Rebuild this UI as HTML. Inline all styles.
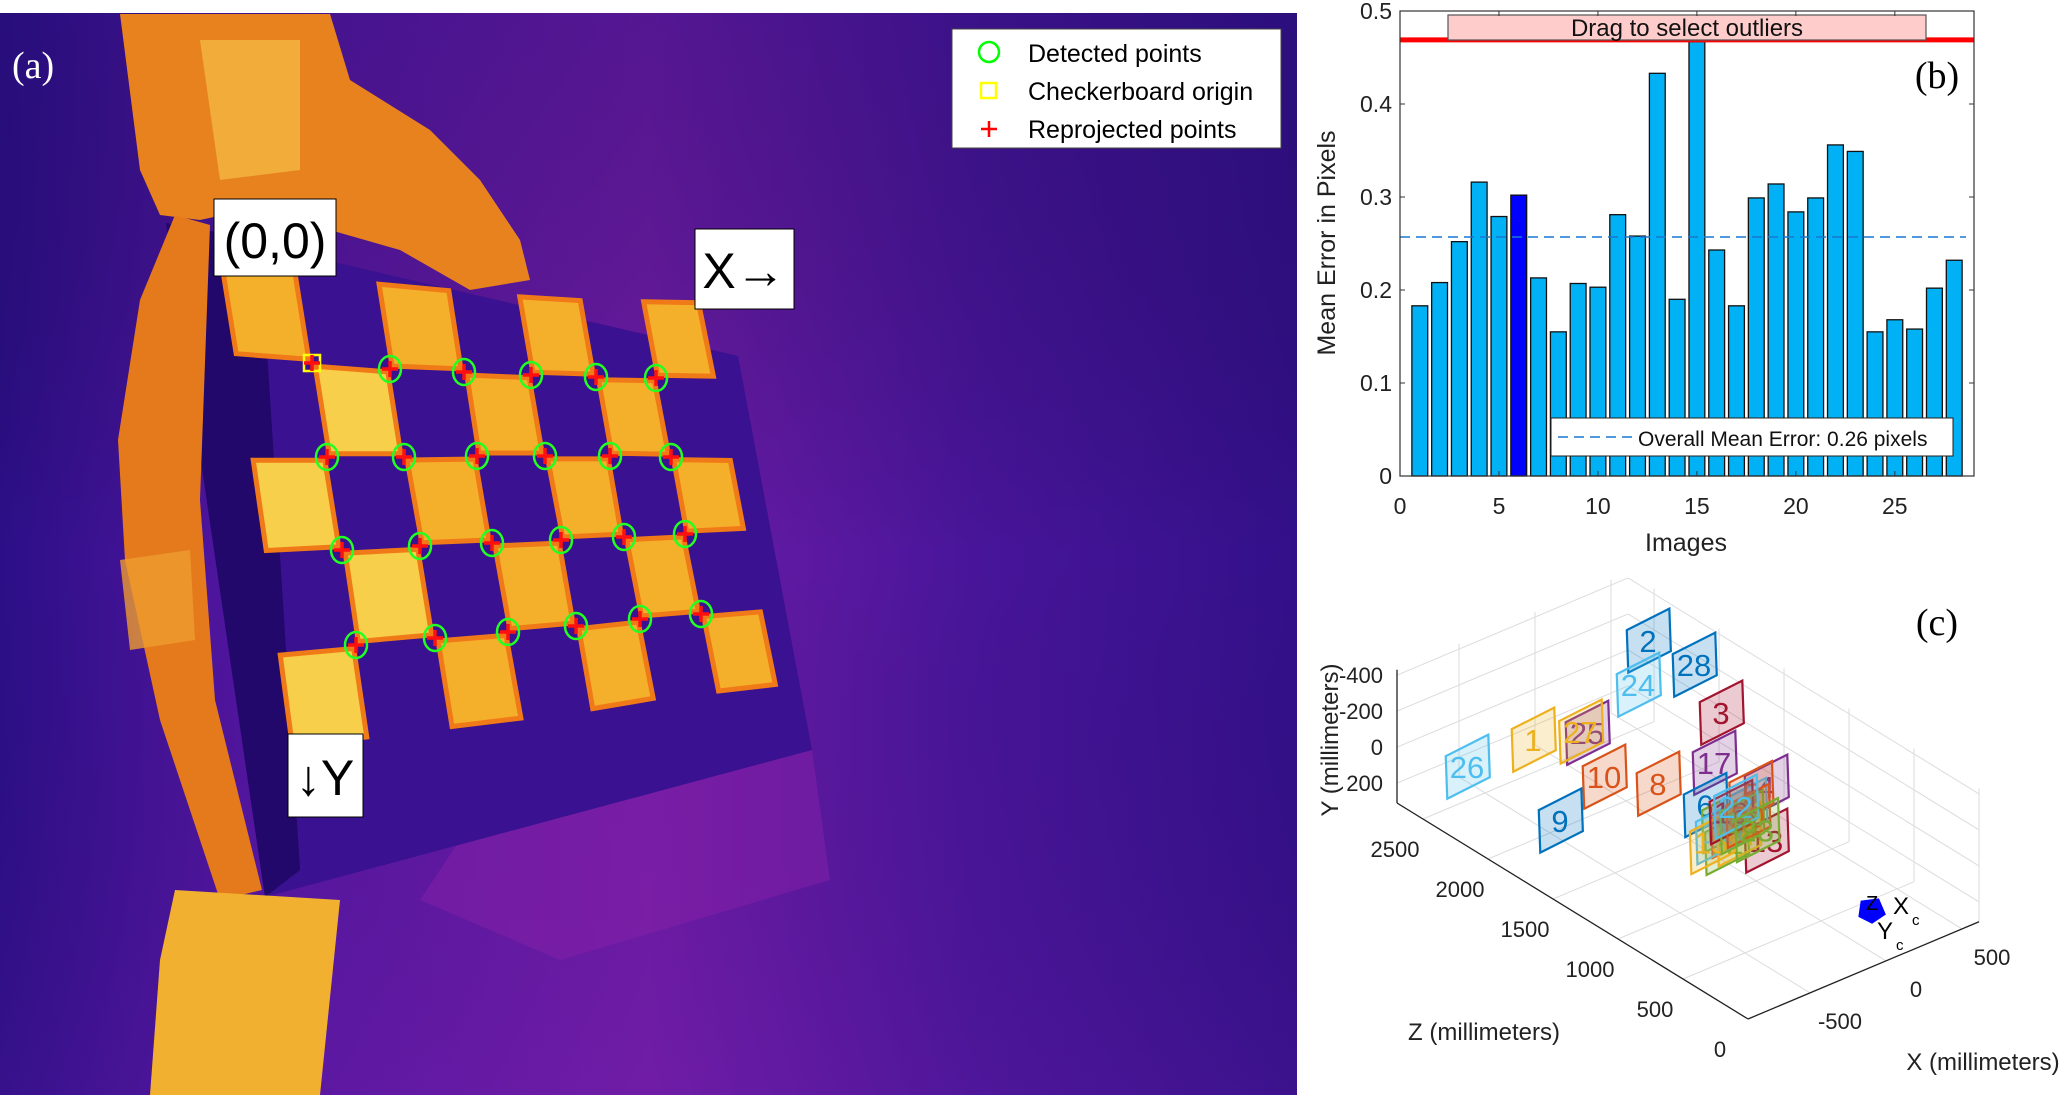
<!DOCTYPE html>
<html><head><meta charset="utf-8"><style>
html,body{margin:0;padding:0;background:#fff;}
body{width:2067px;height:1095px;position:relative;overflow:hidden;font-family:"Liberation Sans",sans-serif;}
svg{position:absolute;left:0;top:0;}
</style></head><body>
<svg id="root" width="2067" height="1095" viewBox="0 0 2067 1095" xmlns="http://www.w3.org/2000/svg">
<defs>
<linearGradient id="bg" x1="0" y1="0" x2="1" y2="0">
<stop offset="0" stop-color="#2c0f88"/><stop offset="0.2" stop-color="#5416a2"/><stop offset="0.5" stop-color="#6e1ca8"/><stop offset="0.75" stop-color="#48159a"/><stop offset="1" stop-color="#33108a"/>
</linearGradient>
<linearGradient id="bgv" x1="0" y1="0" x2="0" y2="1">
<stop offset="0" stop-color="#1c0a60" stop-opacity="0.3"/><stop offset="0.5" stop-color="#000" stop-opacity="0"/><stop offset="1" stop-color="#8020a0" stop-opacity="0.12"/>
</linearGradient>
<clipPath id="photoClip"><rect x="0" y="13" width="1297" height="1082"/></clipPath>
</defs>
<g id="photo" clip-path="url(#photoClip)">
<rect x="0" y="13" width="1297" height="1082" fill="url(#bg)"/>
<rect x="0" y="13" width="1297" height="1082" fill="url(#bgv)"/>
<polygon points="500,780 812,750 830,880 560,960 420,900" fill="#8a22a8" opacity="0.45"/>
<polygon points="166,223 738,356 812,750 265,897" fill="#3a1190"/>
<polygon points="166,223 260,240 300,870 265,897" fill="#22086a"/>
<polygon points="120,14 330,14 350,80 430,130 480,180 520,240 530,280 470,290 400,250 330,230 270,205 200,220 160,215 140,170" fill="#e8821e"/>
<polygon points="118,440 140,300 175,215 210,225 200,500 215,700 262,890 220,900 160,720 125,560" fill="#e57a1c"/>
<polygon points="120,560 190,550 195,640 130,650" fill="#ee9c30" opacity="0.8"/>
<polygon points="175,890 340,900 320,1095 150,1095 160,960" fill="#f2b030"/>
<polygon points="200,40 300,40 300,170 220,180" fill="#f8d050" opacity="0.55"/>
<g id="board"></g>
<g id="marks"></g>
<rect x="214" y="199" width="122" height="77" fill="#fff" stroke="#000" stroke-width="1"/>
<text x="275" y="258" font-size="50" text-anchor="middle" fill="#000">(0,0)</text>
<rect x="695" y="229" width="99" height="80" fill="#fff" stroke="#000" stroke-width="1"/>
<text x="744" y="288" font-size="50" text-anchor="middle" fill="#000">X→</text>
<rect x="288" y="734" width="75" height="83" fill="#fff" stroke="#000" stroke-width="1"/>
<text x="325" y="795" font-size="50" text-anchor="middle" fill="#000">↓Y</text>
<text x="12" y="78" font-size="38" fill="#fff" font-family="Liberation Serif, serif">(a)</text>
<g>
<rect x="952" y="29" width="329" height="119" fill="#fff" stroke="#444" stroke-width="1"/>
<ellipse cx="989" cy="52" rx="10" ry="10" fill="none" stroke="#00ff00" stroke-width="2.5"/>
<text x="1028" y="62" font-size="25" fill="#000">Detected points</text>
<rect x="981" y="83" width="15" height="15" fill="none" stroke="#ffff00" stroke-width="2.5"/>
<text x="1028" y="100" font-size="25" fill="#000">Checkerboard origin</text>
<path d="M981 129 H997 M989 121 V137" stroke="#ff0000" stroke-width="2.5"/>
<text x="1028" y="138" font-size="25" fill="#000">Reprojected points</text>
</g>
</g>

<g id="barchart">
<rect x="1400" y="11" width="574" height="465" fill="#fff"/>
<g id="bars"></g>
<g id="bticks"></g>
<rect x="1400" y="11" width="574" height="465" fill="none" stroke="#333" stroke-width="1.2"/>
<text transform="translate(1335,243) rotate(-90)" font-size="25" text-anchor="middle" fill="#222">Mean Error in Pixels</text>
<text x="1686" y="551" font-size="25" text-anchor="middle" fill="#222">Images</text>
<text x="1937" y="88" font-size="38" text-anchor="middle" fill="#000" font-family="Liberation Serif, serif">(b)</text>
</g>

<g id="chart3d">
<g id="grid3d"></g>
<g id="planes"></g>
<g>
<path d="M1862 902 L1878 900 L1884 914 L1872 922 L1860 916 Z" fill="#0000ff" stroke="#0000ff" stroke-width="3"/>
<text x="1866" y="910" font-size="20" fill="#000">Z</text>
<text x="1893" y="914" font-size="24" fill="#000">X</text><text x="1912" y="925" font-size="15" fill="#000">c</text>
<text x="1877" y="939" font-size="24" fill="#000">Y</text><text x="1896" y="950" font-size="15" fill="#000">c</text>
</g>
<text transform="translate(1338,740) rotate(-90)" font-size="24" text-anchor="middle" fill="#222">Y (millimeters)</text>
<text x="1484" y="1040" font-size="24" text-anchor="middle" fill="#222">Z (millimeters)</text>
<text x="1983" y="1070" font-size="24" text-anchor="middle" fill="#222">X (millimeters)</text>
<text x="1937" y="635" font-size="38" text-anchor="middle" fill="#000" font-family="Liberation Serif, serif">(c)</text>
</g>
</svg>
<script>
const NS='http://www.w3.org/2000/svg';
function mk(parent,tag,attrs){const e=document.createElementNS(NS,tag);for(const k in attrs)e.setAttribute(k,attrs[k]);parent.appendChild(e);return e;}

/* ---- checkerboard corners (photo) ---- */
const cornerX=[[312,390,464,531,596,656],[327,404,477,545,610,671],[342,420,492,561,624,685],[356,435,508,576,640,701]];
const cornerY=[[363,369,372,375,377,378],[457,457,456,456,456,457],[550,546,543,540,537,534],[645,638,632,626,619,614]];
function ext(arr){
  const rows=arr.map(r=>[2*r[0]-r[1],...r,2*r[r.length-1]-r[r.length-2]]);
  const f=rows[0],s=rows[1],l=rows[rows.length-1],p=rows[rows.length-2];
  return [f.map((v,i)=>2*v-s[i]),...rows,l.map((v,i)=>2*v-p[i])];
}
const GX=ext(cornerX),GY=ext(cornerY);
const board=document.getElementById('board');
for(let i=0;i<GX.length-1;i++)for(let j=0;j<GX[0].length-1;j++){
  if((i+j)%2!==0)continue;
  const pts=[[i,j],[i,j+1],[i+1,j+1],[i+1,j]];
  const cx=(GX[i][j]+GX[i+1][j+1])/2, cy=(GY[i][j]+GY[i+1][j+1])/2;
  const p=pts.map(([a,b])=>[(GX[a][b]-cx)*0.93+cx,(GY[a][b]-cy)*0.93+cy].join(',')).join(' ');
  const sq=mk(board,'polygon',{points:p,fill:(i>=1&&j<=1)?'#f7cf4a':'#f4b02a',stroke:'#f07a18','stroke-width':5});
  
  
}
const marks=document.getElementById('marks');
for(let r=0;r<cornerX.length;r++)for(let c=0;c<cornerX[r].length;c++){
  const x=cornerX[r][c],y=cornerY[r][c];
  if(r===0&&c===0){
    const o=mk(marks,'rect',{x:x-8,y:y-8,width:16,height:16,fill:'none',stroke:'#ffff00','stroke-width':2.5});
    
    
  } else {
    const e=mk(marks,'ellipse',{cx:x,cy:y,rx:11,ry:13,fill:'none',stroke:'#22ff22','stroke-width':2.5});
    
    
  }
  const pl=mk(marks,'path',{d:`M${x-8} ${y} H${x+8} M${x} ${y-8} V${y+8}`,stroke:'#ff1010','stroke-width':3.5});
  
  
}

/* ---- bar chart ---- */
const imageIds=[1,2,3,4,5,6,7,8,9,10,11,12,13,14,15,16,17,18,19,20,21,22,23,24,25,26,27,28];
const meanErrors=[0.183,0.208,0.252,0.316,0.279,0.302,0.213,0.155,0.207,0.203,0.281,0.258,0.433,0.190,0.467,0.243,0.183,0.299,0.314,0.284,0.299,0.356,0.349,0.155,0.168,0.158,0.202,0.232];
const selectedImage=6;
const overallMean=0.257;
const outlierThreshold=0.469;
const yTicks=[0,0.1,0.2,0.3,0.4,0.5];
const yTickLabels=['0','0.1','0.2','0.3','0.4','0.5'];
const xTicks=[0,5,10,15,20,25];
const X0=1400,X1=1974,Y0=476,Y1=11,XMAX=29,YMAX=0.5;
const bx=v=>X0+v/XMAX*(X1-X0);
const by=v=>Y0-v/YMAX*(Y0-Y1);
const bars=document.getElementById('bars');
imageIds.forEach((id,i)=>{
  const w=bx(0.8)-bx(0);
  const b=mk(bars,'rect',{x:bx(id)-w/2,y:by(meanErrors[i]),width:w,height:by(0)-by(meanErrors[i]),fill:id===selectedImage?'#0000ff':'#00b2f5',stroke:'#111','stroke-width':1.3});
  
  
});
const ml=mk(bars,'line',{x1:X0,x2:X1-8,y1:by(overallMean),y2:by(overallMean),stroke:'#1a78d0','stroke-width':1.6,'stroke-dasharray':'10,6'});


const rl=mk(bars,'line',{x1:X0,x2:X1,y1:by(outlierThreshold),y2:by(outlierThreshold),stroke:'#ff0000','stroke-width':5});


const db=mk(bars,'rect',{x:1448,y:15,width:478,height:25,fill:'#ffcccc',stroke:'#555','stroke-width':1.2});


const dt=mk(bars,'text',{x:1687,y:36,'font-size':24,'text-anchor':'middle',fill:'#111'});dt.textContent='Drag to select outliers';


const lg=mk(bars,'rect',{x:1551,y:418,width:402,height:38,fill:'#fff',stroke:'#222','stroke-width':1});


const ls=mk(bars,'line',{x1:1558,x2:1633,y1:437,y2:437,stroke:'#1a78d0','stroke-width':1.6,'stroke-dasharray':'10,6'});


const lt=mk(bars,'text',{x:1638,y:446,'font-size':21,fill:'#111'});lt.textContent='Overall Mean Error: 0.26 pixels';


const bt=document.getElementById('bticks');
yTicks.forEach((v,i)=>{
  mk(bt,'line',{x1:X0,x2:X0+5,y1:by(v),y2:by(v),stroke:'#333'});
  mk(bt,'line',{x1:X1-5,x2:X1,y1:by(v),y2:by(v),stroke:'#333'});
  const t=mk(bt,'text',{x:X0-8,y:by(v)+8,'font-size':23,'text-anchor':'end',fill:'#222'});t.textContent=yTickLabels[i];
  
  
});
xTicks.forEach(v=>{
  mk(bt,'line',{x1:bx(v),x2:bx(v),y1:Y0,y2:Y0-5,stroke:'#333'});
  mk(bt,'line',{x1:bx(v),x2:bx(v),y1:Y1,y2:Y1+5,stroke:'#333'});
  const t=mk(bt,'text',{x:bx(v),y:514,'font-size':23,'text-anchor':'middle',fill:'#222'});t.textContent=String(v);
  
  
});

/* ---- 3D extrinsics ---- */
const planeIds=[2,28,24,3,25,27,1,26,10,8,17,4,9,13,6,7,12,21,19,14,5,11,15,16,18,20,22,23];
const planeX=[145,447,79,625,-257,-300,-612,-1046,-145,210,579,921,-434,921,520,640,660,700,780,740,820,600,560,690,760,800,720,860];
const planeY=[-527,-286,-306,44,-158,-180,-246,-250,126,291,306,560,267,860,520,651,780,700,640,760,560,700,740,620,700,680,600,780];
const planeZ=[2000,2000,2000,2000,2000,2000,2000,2000,2000,2000,2000,2000,2000,2000,2000,2000,2000,2000,2000,2000,2000,2000,2000,2000,2000,2000,2000,2000];
const planeColors={1:'#EDB120',2:'#0072BD',3:'#A2142F',4:'#7E2F8E',5:'#D95319',6:'#0072BD',7:'#77AC30',8:'#D95319',9:'#0072BD',10:'#D95319',11:'#4DBEEE',12:'#77AC30',13:'#A2142F',14:'#EDB120',15:'#EDB120',16:'#A2142F',17:'#7E2F8E',18:'#77AC30',19:'#4DBEEE',20:'#D95319',21:'#D95319',22:'#4DBEEE',23:'#77AC30',24:'#4DBEEE',25:'#7E2F8E',26:'#4DBEEE',27:'#EDB120',28:'#0072BD'};
const xTicks3=[-500,0,500],zTicks3=[0,500,1000,1500,2000,2500],yTicks3=[-400,-200,0,200];
const XMIN3=-908,XMAX3=612,ZMAX3=2700,YMIN3=-430,YMAX3=310;
function P(X,Y,Z){return [1748+(X-XMIN3)*0.152-Z*0.13, 1019-(X-XMIN3)*0.064-Z*0.08+(Y-YMAX3)*0.18];}
const g3=document.getElementById('grid3d');
function seg(a,b,st,w){const p=P(...a),q=P(...b);return mk(g3,'line',{x1:p[0],y1:p[1],x2:q[0],y2:q[1],stroke:st,'stroke-width':w});}
zTicks3.forEach(z=>seg([XMIN3,YMAX3,z],[XMAX3,YMAX3,z],'#dcdcdc',1));
xTicks3.forEach(x=>seg([x,YMAX3,0],[x,YMAX3,ZMAX3],'#dcdcdc',1));
xTicks3.forEach(x=>seg([x,YMIN3,ZMAX3],[x,YMAX3,ZMAX3],'#dcdcdc',1));
yTicks3.forEach(y=>seg([XMIN3,y,ZMAX3],[XMAX3,y,ZMAX3],'#dcdcdc',1));
zTicks3.forEach(z=>seg([XMAX3,YMIN3,z],[XMAX3,YMAX3,z],'#dcdcdc',1));
yTicks3.forEach(y=>seg([XMAX3,y,0],[XMAX3,y,ZMAX3],'#dcdcdc',1));
const ay=seg([XMIN3,YMIN3,ZMAX3],[XMIN3,YMAX3,ZMAX3],'#222',1.3);
const az=seg([XMIN3,YMAX3,0],[XMIN3,YMAX3,ZMAX3],'#222',1.3);
const ax=seg([XMIN3,YMAX3,0],[XMAX3,YMAX3,0],'#222',1.3);
yTicks3.forEach(y=>{const p=P(XMIN3,y,ZMAX3);const t=mk(g3,'text',{x:p[0]-14,y:p[1]+8,'font-size':22,'text-anchor':'end',fill:'#222'});t.textContent=String(y);
  
  });
zTicks3.forEach(z=>{const p=P(XMIN3,YMAX3,z);const t=mk(g3,'text',{x:p[0]-28,y:p[1]+38,'font-size':22,'text-anchor':'middle',fill:'#222'});t.textContent=String(z);
  
  });
xTicks3.forEach(x=>{const p=P(x,YMAX3,0);const t=mk(g3,'text',{x:p[0]+30,y:p[1]+36,'font-size':22,'text-anchor':'middle',fill:'#222'});t.textContent=String(x);
  
  });
const pg=document.getElementById('planes');
planeIds.forEach((id,i)=>{
  const X=planeX[i],Y=planeY[i],Z=planeZ[i],c=planeColors[id];
  const corners=[[X-140,Y-110,Z],[X+140,Y-130,Z],[X+150,Y+110,Z],[X-130,Y+130,Z]].map(q=>P(...q));
  const poly=mk(pg,'polygon',{points:corners.map(q=>q.join(',')).join(' '),fill:c,'fill-opacity':0.22,stroke:c,'stroke-width':2.2});
  
  
  const ctr=P(X,Y,Z);
  const t=mk(pg,'text',{x:ctr[0],y:ctr[1]+11,'font-size':31,'text-anchor':'middle',fill:c});t.textContent=String(id);
  
  
});
</script>
</body></html>
